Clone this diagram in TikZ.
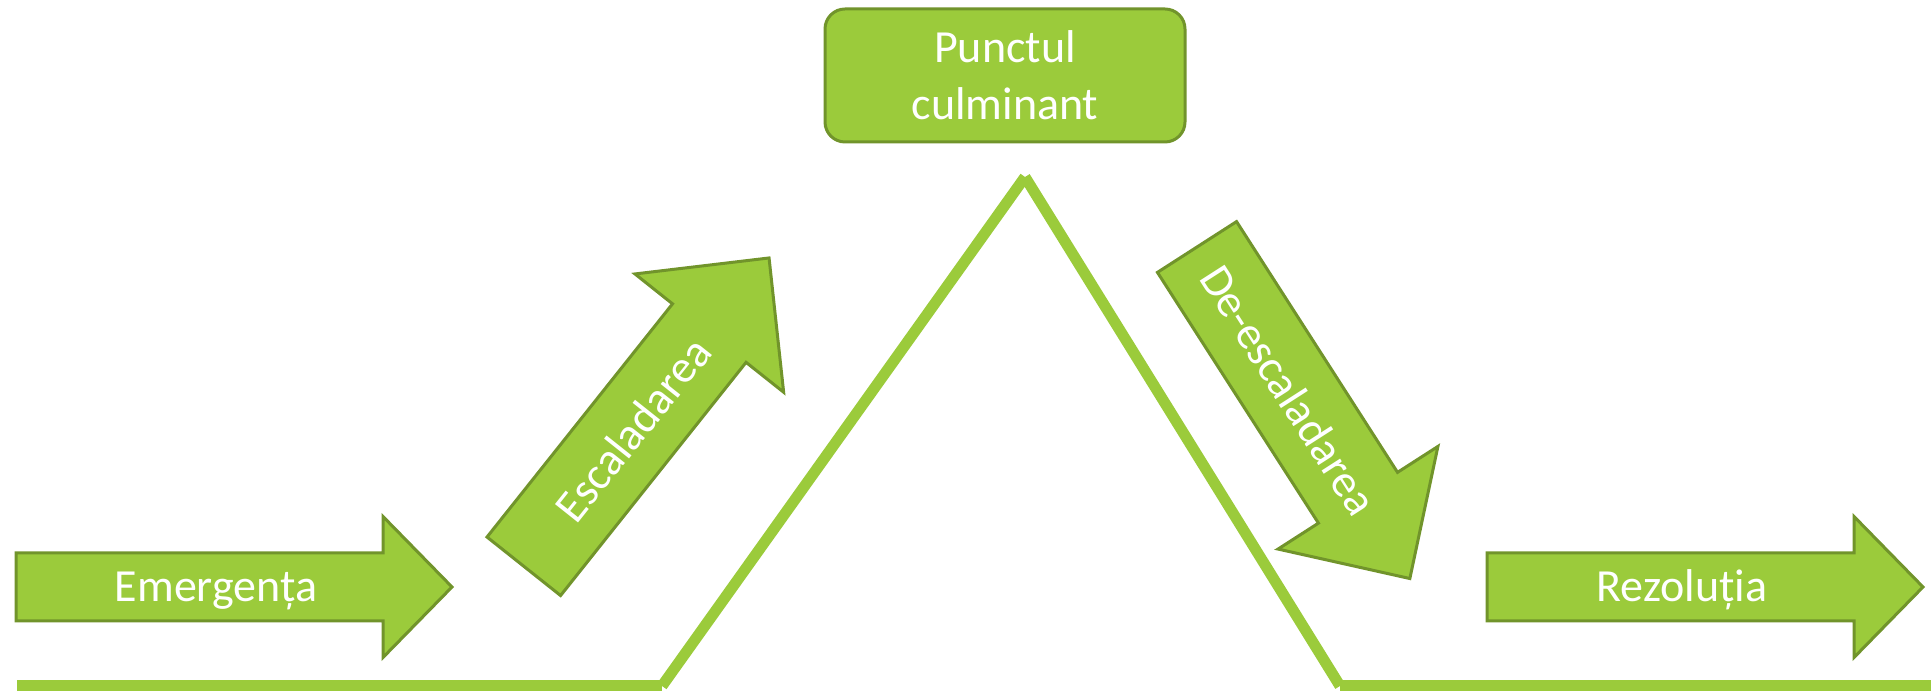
\documentclass[tikz,border=0pt]{standalone}
\usepackage{fontspec}
\setmainfont{Carlito}
\usetikzlibrary{calc}
\definecolor{leaf}{RGB}{155,203,59}
\definecolor{leafedge}{RGB}{113,148,43}
\begin{document}
\begin{tikzpicture}[x=1pt,y=1pt,
  arrowbody/.style={fill=leaf, draw=leafedge, line width=3pt, line join=miter},
  lbl/.style={text=white, font=\fontsize{46}{57}\selectfont, inner sep=0pt},
  peakbox/.style={fill=leaf, draw=leafedge, line width=3pt, rounded corners=20pt,
    minimum width=360pt, minimum height=133pt, inner sep=0pt, align=center},
  trend/.style={draw=leaf, line width=11pt, line cap=butt},
  % block arrow along +x: shaft half-width, shaft length, head half-width, head length
  pics/blockarrow/.style n args={4}{code={
    \path[arrowbody] (0,-#1) -- (#2,-#1) -- (#2,-#3) -- (#2+#4,0)
      -- (#2,#3) -- (#2,#1) -- (0,#1) -- cycle;}}
]
\useasboundingbox (0,0) rectangle (1931,692);

% the rise-and-fall trend line
\coordinate (baseL) at (17,6);
\coordinate (footL) at (662,6);
\coordinate (apex) at (1025,515);
\coordinate (footR) at (1340,6);
\coordinate (baseR) at (1931,6);
\draw[trend] (baseL) -- (footL);
\draw[trend] (footL) -- (apex);
\draw[trend] (apex) -- (footR);
\draw[trend] (footR) -- (baseR);

% stage arrows
\coordinate (emTail) at (16,105);
\pic at (emTail) {blockarrow={34}{367}{70.5}{69}};
\node[lbl, anchor=base] (emerg) at (216,90) {Emergența};

\coordinate (escTail) at (523.8,125.7);
\pic[rotate=51.5] at (escTail) {blockarrow={47}{298}{95}{96}};
\node[lbl, rotate=51.5] (escal) at ($(escTail)+(51.5:175)$) {Escaladarea};

\coordinate (desTail) at (1197,445);
\pic[rotate=-57.3] at (desTail) {blockarrow={47}{298}{95}{96}};
\node[lbl, rotate=-57.3] (deesc) at ($(desTail)+(-57.3:170)$) {De-escaladarea};

\coordinate (rezTail) at (1487,105);
\pic at (rezTail) {blockarrow={34}{367}{70.5}{69}};
\node[lbl, anchor=base] (rezol) at (1682,90) {Rezoluția};

% climax box
\node[peakbox, lbl, inner sep=0pt] (peak) at (1005,616.5) {Punctul\\culminant};
\end{tikzpicture}
\end{document}
